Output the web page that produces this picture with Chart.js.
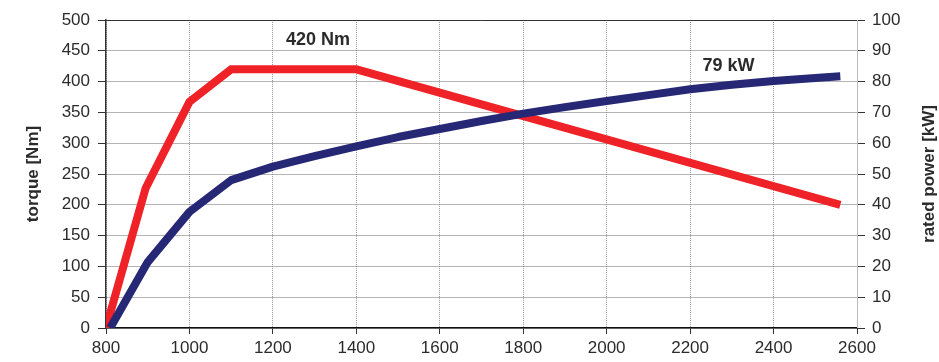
<!DOCTYPE html>
<html>
<head>
<meta charset="utf-8">
<script src="https://cdn.jsdelivr.net/npm/chart.js@4"></script>
<style>
  html, body { margin: 0; padding: 0; background: #fff; }
  #wrap { width: 939px; height: 362px; }
</style>
</head>
<body>
<div id="wrap"><canvas id="engineChart"></canvas></div>
<script>
// engine curve: torque (left axis) and rated power (right axis) over rpm
const torqueRpm = [800, 895, 1000, 1100, 1400, 2560];
const torqueNm  = [0, 227, 367, 420, 420, 200];

const powerRpm = [810, 900, 1000, 1100, 1200, 1300, 1400, 1500, 1600, 1700, 1800, 1900, 2000, 2100, 2200, 2300, 2400, 2500, 2560];
const powerKw  = [0, 21.4, 37.7, 48, 52.4, 55.8, 59, 62, 64.6, 67.2, 69.6, 71.7, 73.7, 75.6, 77.5, 79, 80.2, 81.2, 81.7];

const xTicks = [800, 1000, 1200, 1400, 1600, 1800, 2000, 2200, 2400, 2600];

const labels = [
  { text: "420 Nm", x: 1308, y: 467, axis: "yT" },
  { text: "79 kW",  x: 2292, y: 85,  axis: "yP" }
];

const rightTitle = "rated power [kW]";

const TEXT = "#2b2b2b";
const FONT = "'Liberation Sans', Arial, sans-serif";

const toPoints = (xs, ys) => xs.map((x, i) => ({ x, y: ys[i] }));

// frame, right title (reads bottom-up) and bold annotations
const extras = {
  id: "extras",
  beforeDatasetsDraw(chart) {
    const { ctx, chartArea: a } = chart;
    ctx.save();
    ctx.lineWidth = 1;
    ctx.strokeStyle = "#bdbdbd";
    ctx.beginPath();
    ctx.moveTo(a.right + 0.5, a.top);
    ctx.lineTo(a.right + 0.5, a.bottom);
    ctx.stroke();
    ctx.strokeStyle = "#333";
    ctx.beginPath();
    ctx.moveTo(a.left, a.top + 0.5);
    ctx.lineTo(a.right, a.top + 0.5);
    ctx.stroke();
    ctx.restore();
  },
  afterDatasetsDraw(chart) {
    const { ctx, scales, chartArea: a } = chart;
    ctx.save();
    ctx.font = "bold 18px " + FONT;
    ctx.fillStyle = TEXT;
    ctx.textAlign = "center";
    ctx.textBaseline = "middle";
    labels.forEach(l => {
      ctx.fillText(l.text, scales.x.getPixelForValue(l.x), scales[l.axis].getPixelForValue(l.y));
    });
    ctx.font = "bold 17px " + FONT;
    ctx.translate(scales.yP.right - 10, (a.top + a.bottom) / 2);
    ctx.rotate(-Math.PI / 2);
    ctx.fillText(rightTitle, 0, 0);
    ctx.restore();
  }
};

new Chart(document.getElementById("engineChart"), {
  type: "line",
  data: {
    datasets: [
      {
        label: "power",
        data: toPoints(powerRpm, powerKw),
        yAxisID: "yP",
        borderColor: "#262876",
        borderWidth: 8,
        pointRadius: 0,
        tension: 0,
        borderJoinStyle: "round",
        fill: false
      },
      {
        label: "torque",
        data: toPoints(torqueRpm, torqueNm),
        yAxisID: "yT",
        borderColor: "#ee2227",
        borderWidth: 8,
        pointRadius: 0,
        tension: 0,
        borderJoinStyle: "miter",
        fill: false
      }
    ]
  },
  options: {
    responsive: true,
    maintainAspectRatio: false,
    animation: false,
    layout: { padding: { top: 20, right: 0, left: 0, bottom: 0 } },
    plugins: { legend: { display: false }, tooltip: { enabled: false } },
    scales: {
      x: {
        type: "linear",
        min: 800,
        max: 2600,
        afterBuildTicks: s => { s.ticks = xTicks.map(v => ({ value: v })); },
        afterFit: s => { s.height = 34; },
        grid: { color: "#9a9a9a", tickColor: "#333", tickLength: 6, lineWidth: 1 },
        border: { color: "#111", width: 1.5, dash: [1, 1] },
        ticks: { color: TEXT, font: { family: FONT, size: 17 }, padding: 4, maxRotation: 0, autoSkip: false, callback: v => String(v) }
      },
      yT: {
        position: "left",
        min: 0,
        max: 500,
        afterFit: s => { s.width = 106; },
        grid: { color: "#6a6a6a", tickColor: "#333", tickLength: 8 },
        border: { color: "#333", width: 1.5, dash: [1, 1] },
        ticks: { stepSize: 50, color: TEXT, font: { family: FONT, size: 17 }, padding: 8 },
        title: { display: true, text: "torque [Nm]", color: TEXT, font: { family: FONT, size: 17, weight: "bold" }, padding: { top: 23, bottom: 0 } }
      },
      yP: {
        position: "right",
        min: 0,
        max: 100,
        afterFit: s => { s.width = 82; },
        grid: { drawOnChartArea: false, tickColor: "#333", tickLength: 8 },
        border: { display: false },
        ticks: { stepSize: 10, color: TEXT, font: { family: FONT, size: 17 }, padding: 7 }
      }
    }
  },
  plugins: [extras]
});
</script>
</body>
</html>
